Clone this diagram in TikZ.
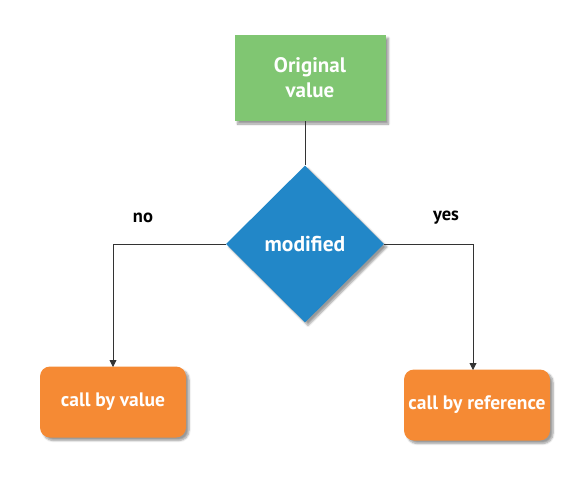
\documentclass[tikz,border=0pt]{standalone}
\usepackage{fontspec}
\setmainfont{PT Sans}
\usetikzlibrary{shapes.geometric,shadows.blur,arrows.meta}
\definecolor{boxgreen}{HTML}{80C672}
\definecolor{boxblue}{HTML}{2287C8}
\definecolor{boxorange}{HTML}{F58A34}
\definecolor{linegray}{HTML}{333333}
\tikzset{
  startbox/.style={rectangle, fill=boxgreen, minimum width=151pt, minimum height=86pt, text=white, font=\fontsize{21}{25}\selectfont\bfseries, align=center, blur shadow={shadow xshift=3pt, shadow yshift=-3pt, shadow blur steps=6}},
  decbox/.style={diamond, fill=boxblue, minimum width=158pt, minimum height=157pt, inner sep=0pt, text=white, font=\fontsize{21.5}{25}\selectfont\bfseries, blur shadow={shadow xshift=3pt, shadow yshift=-3pt, shadow blur steps=6}},
  endbox/.style={rectangle, rounded corners=10pt, fill=boxorange, minimum width=146pt, minimum height=71pt, text=white, font=\fontsize{19.5}{23}\selectfont\bfseries, blur shadow={shadow xshift=3pt, shadow yshift=-3pt, shadow blur steps=6}},
  conn/.style={draw=linegray, line width=0.9pt},
  arr/.style={conn, -{Triangle[length=7pt,width=7pt]}},
  lbl/.style={font=\fontsize{18.5}{22}\selectfont\bfseries, text=black}
}
\begin{document}
\begin{tikzpicture}[x=1pt,y=-1pt]
\useasboundingbox (0,0) rectangle (583,483);
\node[startbox] (orig) at (310,78) {Original\\value};
\node[decbox] (mod) at (305,244) {modified};
\node[endbox] (cbv) at (113,402) {call by value};
\node[endbox] (cbr) at (477,405) {call by reference};
\coordinate (lcorner) at (113,244);
\coordinate (rcorner) at (473,244);
\coordinate (ltip) at (113,367);
\coordinate (rtip) at (473,370);
\node[lbl] (no) at (143,218) {no};
\node[lbl] (yes) at (446,218) {yes};
\draw[conn] (orig.south -| mod.north) -- (mod.north);
\draw[arr] (mod.west) -- (lcorner) -- (ltip);
\draw[arr] (mod.east) -- (rcorner) -- (rtip);
\end{tikzpicture}
\end{document}
